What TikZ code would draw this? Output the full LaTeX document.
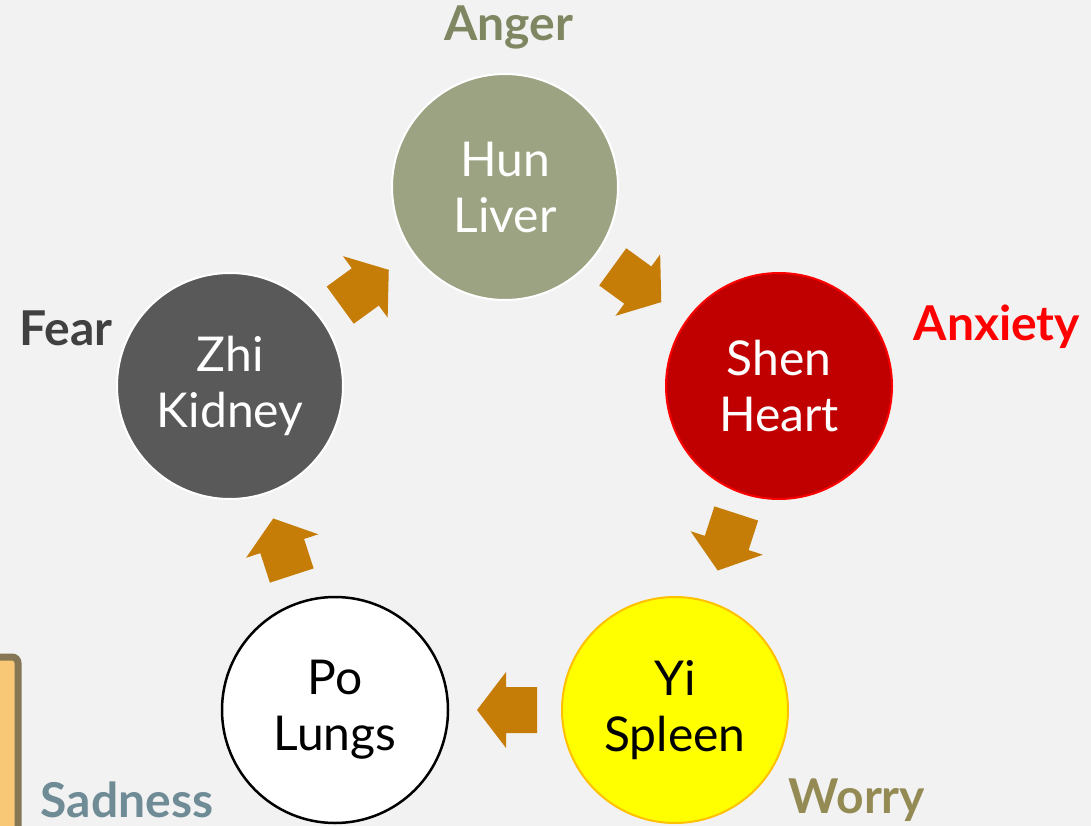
\documentclass[tikz,border=0pt]{standalone}
\usepackage{fontspec}
\setmainfont{Lato}
\usetikzlibrary{calc}
\definecolor{bgc}{HTML}{F2F2F2}
\definecolor{livercol}{HTML}{9CA383}
\definecolor{heartcol}{HTML}{C00000}
\definecolor{heartbd}{HTML}{FF0000}
\definecolor{kidneycol}{HTML}{595959}
\definecolor{spleencol}{HTML}{FFFF00}
\definecolor{spleenbd}{HTML}{FFC000}
\definecolor{arrowcol}{HTML}{C67D08}
\definecolor{angercol}{HTML}{7F8762}
\definecolor{worrycol}{HTML}{948A54}
\definecolor{sadcol}{HTML}{6E8B96}
\definecolor{fearcol}{HTML}{404040}
\definecolor{boxfill}{HTML}{F9C877}
\definecolor{boxbd}{HTML}{857655}
\tikzset{
  organ/.style={circle, minimum size=226pt, inner sep=0pt, line width=2pt,
    align=center, font=\fontsize{48}{56}\selectfont},
  emotion/.style={font=\fontsize{48}{56}\selectfont\bfseries},
  blockarrow/.pic={\fill[arrowcol] (-30,-23) -- (1,-23) -- (1,-38) -- (30,0) -- (1,38) -- (1,23) -- (-30,23) -- cycle;}
}
\begin{document}
\begin{tikzpicture}[x=1pt,y=-1pt]
\useasboundingbox (0,0) rectangle (1091,826);
\fill[bgc] (0,0) rectangle (1091,826);
% partial box at left
\draw[boxbd, fill=boxfill, line width=7pt, rounded corners=6pt] (-30,657) rectangle (18,860);
% organs
\node[organ, fill=livercol, draw=white, text=white] (liver) at (505,187) {Hun\\Liver};
\node[organ, fill=heartcol, draw=heartbd, text=white] (heart) at (779,386) {Shen\\Heart};
\node[organ, fill=spleencol, draw=spleenbd, text=black] (spleen) at (675,710) {Yi\\Spleen};
\node[organ, fill=white, draw=black, line width=2.5pt, text=black] (lungs) at (335,710) {Po\\Lungs};
\node[organ, fill=kidneycol, draw=white, text=white] (kidney) at (230,386) {Zhi\\Kidney};
% arrows
\pic[rotate=-36] at ($(liver)!0.5!(heart)+(-5,-2)$) {blockarrow};
\pic[rotate=-108] at ($(heart)!0.5!(spleen)+(0,-6)$) {blockarrow};
\pic[rotate=180] at ($(spleen)!0.5!(lungs)+(2,0)$) {blockarrow};
\pic[rotate=108] at ($(lungs)!0.5!(kidney)+(0,-1)$) {blockarrow};
\pic[rotate=36] at ($(kidney)!0.5!(liver)+(-3,1)$) {blockarrow};
% emotion labels
\node[emotion, text=angercol] (anger) at (509,27) {Anger};
\node[emotion, text=heartbd] (anxiety) at (997,327) {Anxiety};
\node[emotion, text=worrycol] (worry) at (857,800) {Worry};
\node[emotion, text=sadcol] (sadness) at (127,800) {Sadness};
\node[emotion, text=fearcol] (fear) at (66,328) {Fear};
\end{tikzpicture}
\end{document}
